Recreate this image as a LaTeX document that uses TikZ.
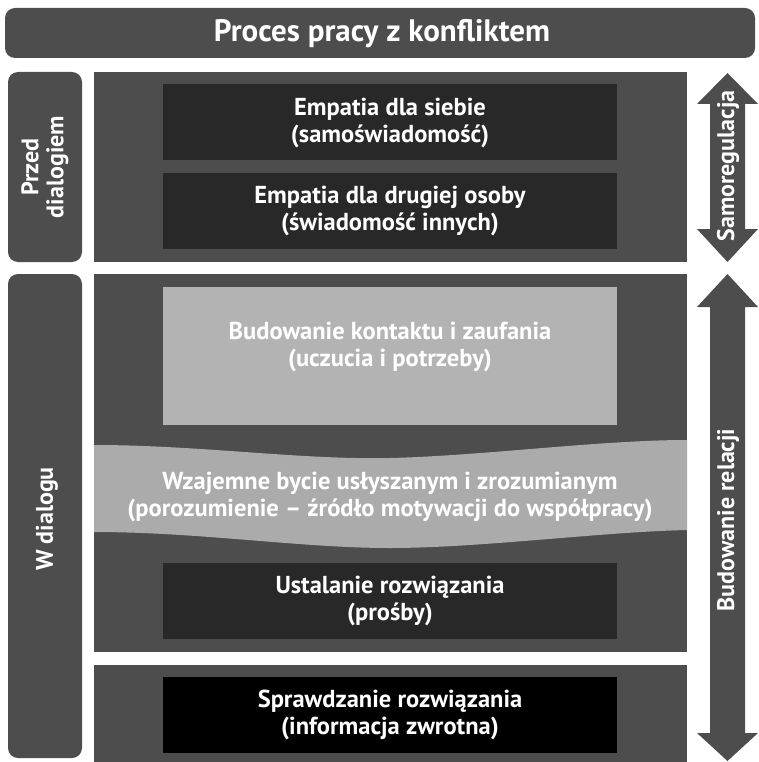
\documentclass[tikz,border=0pt]{standalone}
\usepackage{fontspec}
\setmainfont{PT Sans}
\definecolor{panelgray}{HTML}{4D4D4D}
\definecolor{boxdark}{HTML}{282828}
\definecolor{boxlight}{HTML}{B3B3B3}
\definecolor{wavegray}{HTML}{ABABAB}
\newcommand{\boxfont}{\bfseries\fontsize{24.5}{27}\selectfont}
\newcommand{\sidefont}{\bfseries\fontsize{24}{25}\selectfont}
\begin{document}
\begin{tikzpicture}[x=1pt,y=-1pt,
    panel/.style={fill=panelgray},
    sidepanel/.style={fill=panelgray, rounded corners=10pt},
    stepbox/.style={text=white, align=center, font=\boxfont,
        minimum width=454pt, minimum height=76pt, inner sep=0pt},
    sidetext/.style={text=white, align=center, rotate=90, font=\sidefont}]
    \useasboundingbox (0,0) rectangle (758,762);
    % title bar
    \fill[sidepanel] (5,8) rectangle (755,58);
    \node[text=white, font=\bfseries\fontsize{31}{34}\selectfont] (title) at (382,34) {Proces pracy z konfliktem};
    % side panels
    \fill[sidepanel] (8,72) rectangle (82,262);
    \fill[sidepanel] (8,274) rectangle (82,758);
    \node[sidetext] (przed) at (45,167) {Przed\\dialogiem};
    \node[sidetext] (wdialogu) at (47,519) {W dialogu};
    % main panels
    \fill[panel] (94,72) rectangle (687,262);
    \fill[panel] (94,274) rectangle (687,652);
    \fill[panel] (94,665) rectangle (687,762);
    % arrows on the right
    \foreach \top/\hbase/\lbase/\bot in {73/104/229/262, 274/307/733/761}
    \fill[panelgray] (727.5,\top) -- (758,\hbase) -- (745,\hbase) -- (745,\lbase)
        -- (758,\lbase) -- (727.5,\bot) -- (697,\lbase) -- (710,\lbase)
        -- (710,\hbase) -- (697,\hbase) -- cycle;
    \node[sidetext] (samoreg) at (728,166) {Samoregulacja};
    \node[sidetext] (relacje) at (728,520) {Budowanie relacji};
    % steps
    \node[stepbox, fill=boxdark] (siebie) at (390,122.5) {Empatia dla siebie\\(samoświadomość)};
    \node[stepbox, fill=boxdark] (druga) at (390,211) {Empatia dla drugiej osoby\\(świadomość innych)};
    \fill[boxlight] (163,287) rectangle (617,425);
    \node[stepbox] (kontakt) at (390,347) {Budowanie kontaktu i zaufania\\(uczucia i potrzeby)};
    % wave band
    \fill[wavegray] (94,445) .. controls (200,445) and (300,460) .. (390,458)
        .. controls (480,456) and (600,440) .. (687,440) -- (687,530)
        .. controls (600,532) and (480,548) .. (390,548)
        .. controls (300,548) and (200,532) .. (94,532) -- cycle;
    \node[stepbox] (porozumienie) at (390,497) {Wzajemne bycie usłyszanym i zrozumianym\\(porozumienie – źródło motywacji do współpracy)};
    \node[stepbox, fill=boxdark] (ustalanie) at (390,601) {Ustalanie rozwiązania\\(prośby)};
    \node[stepbox, fill=black] (sprawdzanie) at (390,715) {Sprawdzanie rozwiązania\\(informacja zwrotna)};
\end{tikzpicture}
\end{document}
